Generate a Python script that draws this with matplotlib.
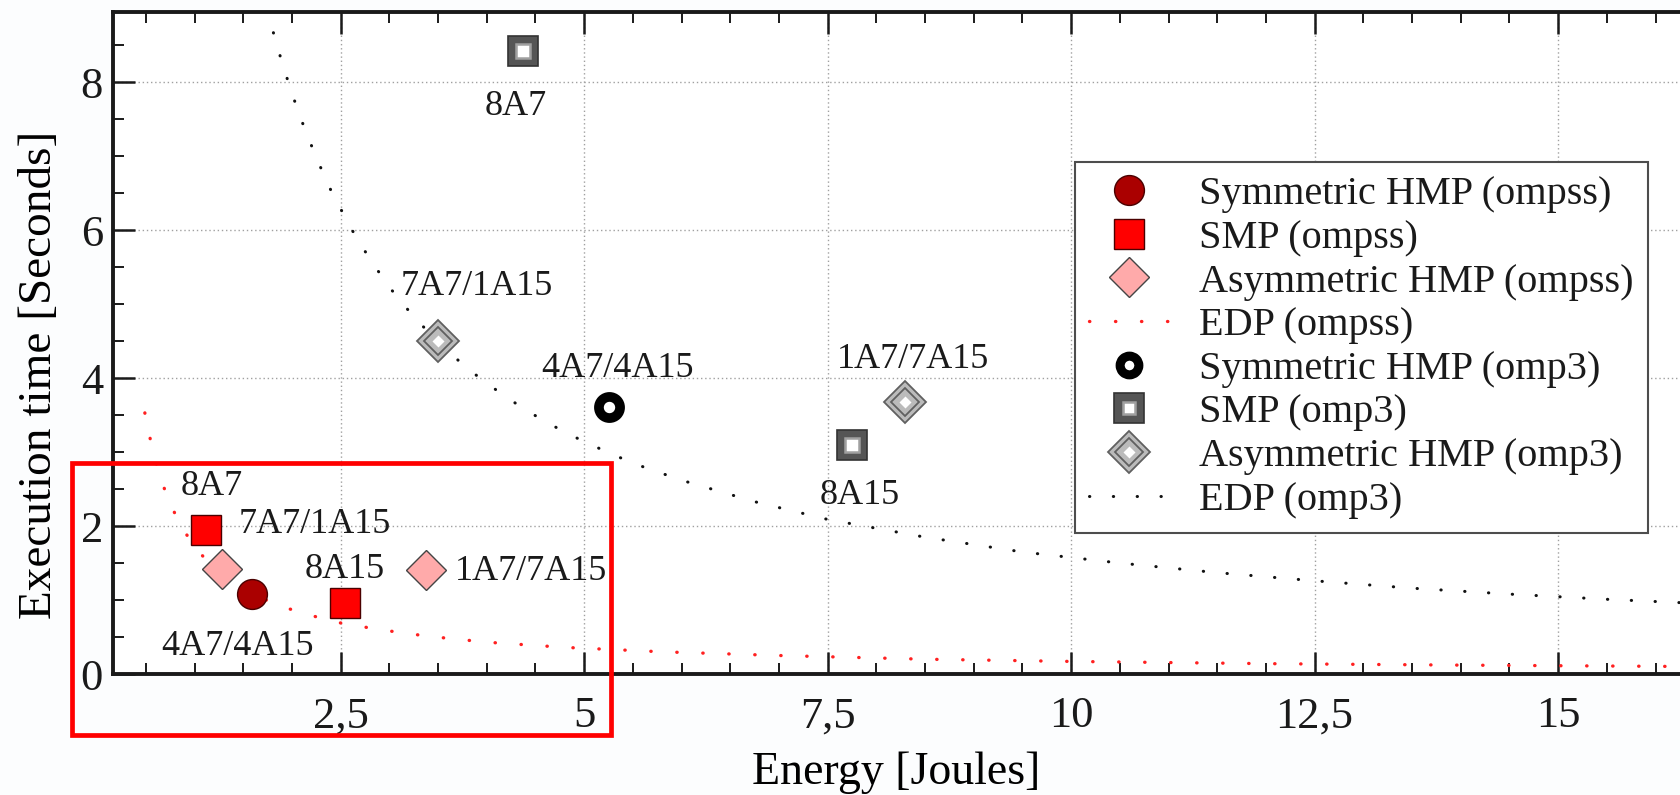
import matplotlib
matplotlib.use("Agg")
import matplotlib.pyplot as plt
from matplotlib.lines import Line2D
from matplotlib.patches import Rectangle
from matplotlib.ticker import MultipleLocator, FuncFormatter

plt.rcParams['font.family'] = ['Liberation Serif', 'DejaVu Serif']

# --- measured points: energy [J], time [s] ---
ompss_sym_E = [1.588]
ompss_sym_T = [1.088]
ompss_sym_lab = ["4A7/4A15"]
ompss_smp_E = [1.116, 2.541]
ompss_smp_T = [1.953, 0.966]
ompss_smp_lab = ["8A7", "8A15"]
ompss_asym_E = [1.28, 3.381]
ompss_asym_T = [1.419, 1.412]
ompss_asym_lab = ["7A7/1A15", "1A7/7A15"]

omp3_sym_E = [5.255]
omp3_sym_T = [3.605]
omp3_sym_lab = ["4A7/4A15"]
omp3_smp_E = [4.369, 7.753]
omp3_smp_T = [8.428, 3.101]
omp3_smp_lab = ["8A7", "8A15"]
omp3_asym_E = [3.498, 8.296]
omp3_asym_T = [4.496, 3.68]
omp3_asym_lab = ["7A7/1A15", "1A7/7A15"]

# EDP curves
edp_ompss_E = [0.49, 0.52, 0.56, 0.6, 0.65, 0.7, 0.76, 0.83, 0.9, 1.0, 1.1, 1.2, 1.35, 1.5,
               1.7, 1.9, 2.2, 2.5, 2.9, 3.4, 4.0, 4.8, 5.8, 7.0, 8.5, 10.0, 12.0, 14.0, 16.5]
edp_ompss_T = [3.53, 3.33, 3.09, 2.88, 2.66, 2.47, 2.28, 2.08, 1.92, 1.73, 1.57, 1.44, 1.28, 1.15,
               1.02, 0.91, 0.79, 0.69, 0.60, 0.51, 0.43, 0.36, 0.30, 0.25, 0.20, 0.17, 0.14, 0.12, 0.10]
edp_omp3_E = [1.81, 1.9, 2.0, 2.1, 2.25, 2.4, 2.6, 2.8, 3.0, 3.25, 3.5, 3.8, 4.2, 4.6, 5.0, 5.5,
              6.0, 6.75, 7.5, 8.5, 9.5, 10.5, 11.5, 12.5, 13.5, 14.5, 15.5, 16.5]
edp_omp3_T = [8.67, 8.26, 7.85, 7.48, 6.98, 6.54, 6.04, 5.61, 5.23, 4.83, 4.49, 4.13, 3.74, 3.41,
              3.14, 2.85, 2.62, 2.33, 2.09, 1.85, 1.65, 1.50, 1.37, 1.26, 1.16, 1.08, 1.01, 0.95]

# label offsets in points (dx, dy) relative to each point
off_ompss_sym = [(-10, -44)]
off_ompss_smp = [(4, 25), (0, 17.6)]
off_ompss_asym = [(67, 26), (75, -7.6)]
off_omp3_sym = [(6, 21.7)]
off_omp3_smp = [(-4.7, -46.6), (5, -42.8)]
off_omp3_asym = [(28.3, 33.3), (5.8, 24.3)]

fig = plt.figure(figsize=(16.81, 7.95), dpi=100, facecolor='#fcfdfe')
ax = fig.add_axes([112.7 / 1681, 121 / 795, 1591.5 / 1681, 662 / 795])
ax.set_facecolor('white')

dots = (0, (0.1, 7.7))
ax.plot(edp_ompss_E, edp_ompss_T, ls=dots, color='#ff2020', lw=2.4,
        dash_capstyle='round', zorder=2)
ax.plot(edp_omp3_E, edp_omp3_T, ls=dots, color='#111111', lw=2.2,
        dash_capstyle='round', zorder=2)

mk = dict(ls='none', zorder=4)
# ompss
ax.plot(ompss_sym_E, ompss_sym_T, marker='o', ms=21.5, mfc='#aa0000', mec='#4a0000', mew=1, **mk)
ax.plot(ompss_smp_E, ompss_smp_T, marker='s', ms=21, mfc='#ff0000', mec='#4a0000', mew=1, **mk)
ax.plot(ompss_asym_E, ompss_asym_T, marker='D', ms=20.5, mfc='#ffaaaa', mec='#444444', mew=1, **mk)
# omp3
ax.plot(omp3_sym_E, omp3_sym_T, marker='o', ms=15.2, mfc='white', mec='black', mew=7, **mk)
ax.plot(omp3_smp_E, omp3_smp_T, marker='s', ms=22, mfc='#555555', mec='#333333', mew=1.2, **mk)
ax.plot(omp3_smp_E, omp3_smp_T, marker='s', ms=9.5, mfc='white', mec='#a0a0a0', mew=1.8, **mk)
ax.plot(omp3_asym_E, omp3_asym_T, marker='D', ms=21.5, mfc='#bbbbbb', mec='#606060', mew=1.3, **mk)
ax.plot(omp3_asym_E, omp3_asym_T, marker='D', ms=14, mfc='#bbbbbb', mec='#606060', mew=1.3, **mk)
ax.plot(omp3_asym_E, omp3_asym_T, marker='D', ms=6.5, mfc='white', mec='none', **mk)

groups = [
    (ompss_sym_E, ompss_sym_T, ompss_sym_lab, off_ompss_sym),
    (ompss_smp_E, ompss_smp_T, ompss_smp_lab, off_ompss_smp),
    (ompss_asym_E, ompss_asym_T, ompss_asym_lab, off_ompss_asym),
    (omp3_sym_E, omp3_sym_T, omp3_sym_lab, off_omp3_sym),
    (omp3_smp_E, omp3_smp_T, omp3_smp_lab, off_omp3_smp),
    (omp3_asym_E, omp3_asym_T, omp3_asym_lab, off_omp3_asym),
]
for xs, ys, labs, offs in groups:
    for x, y, lab, off in zip(xs, ys, labs, offs):
        ax.annotate(lab, (x, y), xytext=off, textcoords='offset points',
                    ha='center', va='baseline', fontsize=26, color='#1a1a1a', zorder=5)

ax.set_xlim(0.16, 16.5)
ax.set_ylim(0, 8.95)
ax.xaxis.set_major_locator(MultipleLocator(2.5))
ax.xaxis.set_minor_locator(MultipleLocator(0.5))
ax.yaxis.set_major_locator(MultipleLocator(2))
ax.yaxis.set_minor_locator(MultipleLocator(0.5))
ax.xaxis.set_major_formatter(FuncFormatter(lambda v, p: ('%g' % v).replace('.', ',')))

ax.tick_params(which='both', direction='in', top=True, right=True, colors='#1a1a1a')
ax.tick_params(which='major', length=16, width=1.8, labelsize=32)
ax.tick_params(which='minor', length=8, width=1.4)
ax.tick_params(axis='x', which='major', pad=16)
ax.tick_params(axis='y', which='major', pad=7)
for s in ax.spines.values():
    s.set_linewidth(2.8)
    s.set_color('#1a1a1a')

ax.grid(True, which='major', ls=(0, (1, 2)), lw=1, color='#a0a0a0')
ax.set_axisbelow(True)

ax.set_xlabel("Energy [Joules]", fontsize=33)
ax.set_ylabel("Execution time [Seconds]", fontsize=34)
ax.xaxis.set_label_coords(0.492, -0.117)
ax.yaxis.set_label_coords(-0.0325, 0.4517)

# legend
h_sym_s = Line2D([], [], ls='none', marker='o', ms=21.5, mfc='#aa0000', mec='#4a0000', mew=1)
h_smp_s = Line2D([], [], ls='none', marker='s', ms=21, mfc='#ff0000', mec='#4a0000', mew=1)
h_asy_s = Line2D([], [], ls='none', marker='D', ms=20.5, mfc='#ffaaaa', mec='#444444', mew=1)
h_edp_s = Line2D([], [], ls=dots, color='#ff2020', lw=2.4, dash_capstyle='round')
h_sym_3 = Line2D([], [], ls='none', marker='o', ms=13.5, mfc='white', mec='black', mew=6.5)
h_smp_3 = (Line2D([], [], ls='none', marker='s', ms=21, mfc='#555555', mec='#333333', mew=1.2),
           Line2D([], [], ls='none', marker='s', ms=9, mfc='white', mec='#a0a0a0', mew=1.8))
h_asy_3 = (Line2D([], [], ls='none', marker='D', ms=21, mfc='#bbbbbb', mec='#606060', mew=1.3),
           Line2D([], [], ls='none', marker='D', ms=14, mfc='#bbbbbb', mec='#606060', mew=1.3),
           Line2D([], [], ls='none', marker='D', ms=6.5, mfc='white', mec='none'))
h_edp_3 = Line2D([], [], ls=dots, color='#111111', lw=2.2, dash_capstyle='round')

labels = ["Symmetric HMP (ompss)", "SMP (ompss)", "Asymmetric HMP (ompss)", "EDP (ompss)",
          "Symmetric HMP (omp3)", "SMP (omp3)", "Asymmetric HMP (omp3)", "EDP (omp3)"]
leg = fig.legend([h_sym_s, h_smp_s, h_asy_s, h_edp_s, h_sym_3, h_smp_3, h_asy_3, h_edp_3],
                 labels, loc='upper left', bbox_to_anchor=(1075 / 1681, 633 / 795),
                 bbox_transform=fig.transFigure, borderaxespad=0, fontsize=29,
                 frameon=True, fancybox=False, framealpha=1, edgecolor='#4d4d4d',
                 borderpad=0.35, handlelength=2.0, handletextpad=0.73, labelspacing=0.16)
leg.get_frame().set_linewidth(1.5)
for t in leg.get_texts():
    t.set_color('#1a1a1a')

# red highlight box around the ompss cluster
fig.add_artist(Rectangle((71.7 / 1681, 60 / 795), (611 - 71.7) / 1681, (735 - 462.5) / 795,
                         transform=fig.transFigure, fill=False, ec='#ff0000', lw=3.4, zorder=10))

fig.savefig("out.png", dpi=100, facecolor=fig.get_facecolor())
